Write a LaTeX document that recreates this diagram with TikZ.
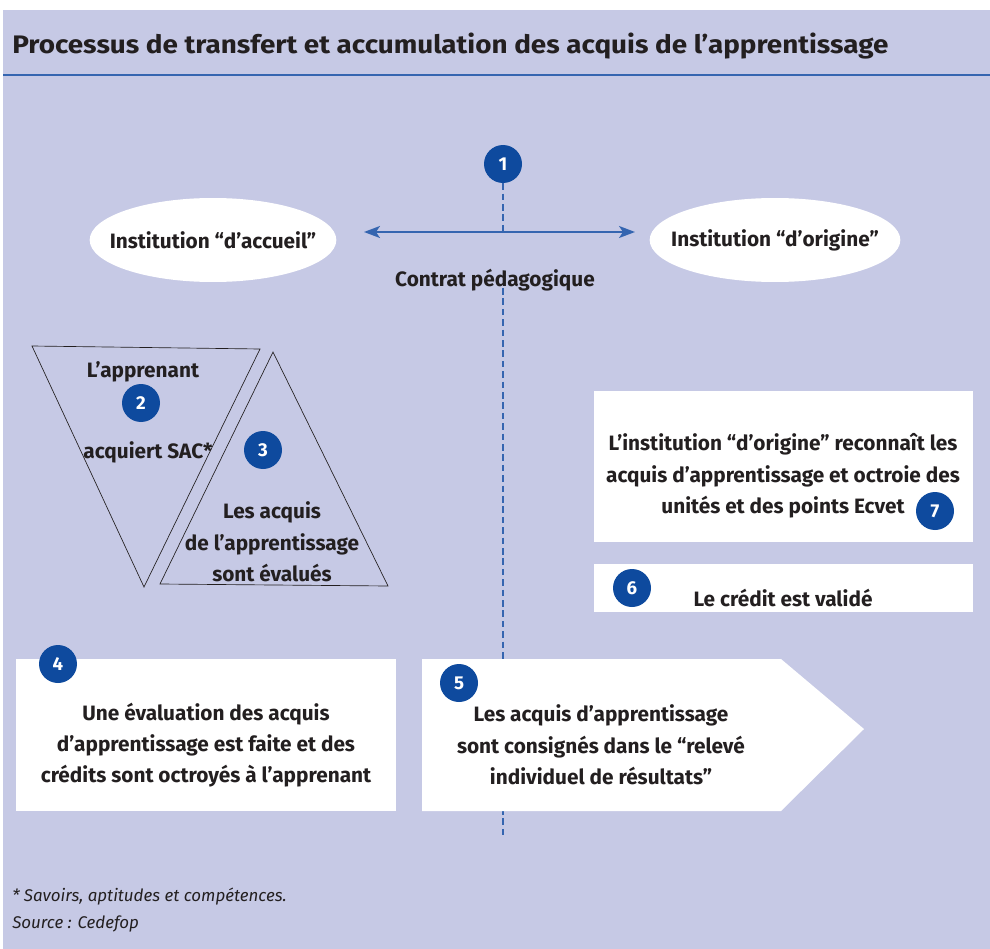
\documentclass[tikz,border=0pt]{standalone}
\usepackage{fontspec}
\setmainfont{Fira Sans}
\usetikzlibrary{shapes.geometric,arrows.meta}
\definecolor{lavande}{HTML}{C6C9E5}
\definecolor{bleufonce}{HTML}{0E4A9E}
\definecolor{bleutrait}{HTML}{3565B0}
\definecolor{encre}{HTML}{231F20}
\tikzset{
  pastille/.style={circle,fill=bleufonce,text=white,minimum size=28.5pt,inner sep=0pt,
    font=\bfseries\fontsize{14}{14}\selectfont},
  etiquette/.style={text=encre,align=center,inner sep=0pt,
    font=\bfseries\fontsize{15.6}{23.5}\selectfont},
  institution/.style={ellipse,fill=white,minimum width=185pt,minimum height=63pt,
    inner sep=0pt,text=encre,font=\bfseries\fontsize{15.6}{18}\selectfont},
  pointille/.style={bleutrait,line width=2pt,dash pattern=on 5pt off 2.8pt},
  trianglebord/.style={draw=encre,line width=0.5pt},
  cadre/.style={fill=white},
  note/.style={anchor=west,inner sep=0pt,text=encre,font=\itshape\fontsize{12.7}{15}\selectfont}
}
\begin{document}
\begin{tikzpicture}[x=0.75pt,y=-0.75pt]
\useasboundingbox (0,0) rectangle (990,949);
\fill[white] (0,0) rectangle (990,949);
\fill[lavande] (3,10) rectangle (990,949);
% titre
\node[anchor=west,inner sep=0pt,text=encre,font=\bfseries\fontsize{19}{22}\selectfont] (titre) at (12,46)
  {\scalebox{1.1}[1]{Processus de transfert et accumulation des acquis de l’apprentissage}};
\draw[bleutrait,line width=1.5pt] (3,75) -- (990,75);
% institutions et contrat
\node[institution] (accueil) at (213,240) {\makebox[0pt]{Institution “d’accueil”}};
\node[institution,minimum width=188pt] (origine) at (775,240) {\makebox[0pt]{Institution “d’origine”}};
\node[pastille] (p1) at (503,164) {1};
\coordinate (gauche) at (364,232);
\coordinate (droite) at (635,232);
\coordinate (croix) at (503,232);
\draw[bleutrait,line width=1.5pt,{Stealth[length=12pt,width=9pt,inset=3pt]}-{Stealth[length=12pt,width=9pt,inset=3pt]}] (gauche) -- (droite);
\draw[pointille] (p1) -- (croix);
\node[etiquette] (contrat) at (495,280) {Contrat pédagogique};
\coordinate (reprise) at (503,288);
\coordinate (fin) at (503,838);
\draw[pointille] (reprise) -- (fin);
% triangles
\draw[trianglebord] (32,346) -- (260,349) -- (144,587) -- cycle;
\draw[trianglebord] (273,352) -- (388,586) -- (160,584) -- cycle;
\node[etiquette] (apprenant) at (143,372) {L’apprenant};
\node[pastille] (p2) at (141,403) {2};
\node[etiquette] (sac) at (148,452) {acquiert SAC*};
\node[pastille] (p3) at (263,450) {3};
\node[etiquette] (evalues) at (272,542) {Les acquis\\de l’apprentissage\\sont évalués};
% cadres de droite
\fill[cadre] (594,391) rectangle (973,542);
\node[etiquette] (reconnait) at (783,476)
  {L’institution “d’origine” reconnaît les\\acquis d’apprentissage et octroie des\\unités et des points Ecvet};
\node[pastille] (p7) at (935,511) {7};
\fill[cadre] (594,564) rectangle (973,612);
\node[pastille] (p6) at (632,588) {6};
\node[etiquette] (valide) at (783,598) {Le crédit est validé};
% cadres du bas
\fill[cadre] (16,659) rectangle (396,811);
\node[pastille] (p4) at (58,664) {4};
\node[etiquette] (evaluation) at (206,745)
  {Une évaluation des acquis\\d’apprentissage est faite et des\\crédits sont octroyés à l’apprenant};
\fill[cadre] (422,659) -- (781,659) -- (864,729) -- (781,811) -- (422,811) -- cycle;
\node[pastille] (p5) at (459,683) {5};
\node[etiquette] (releve) at (601,745)
  {Les acquis d’apprentissage\\sont consignés dans le “relevé\\individuel de résultats”};
% notes
\node[note] (renvoi) at (12,897) {* Savoirs, aptitudes et compétences.};
\node[note] (source) at (12,924) {Source : Cedefop};
\end{tikzpicture}
\end{document}
